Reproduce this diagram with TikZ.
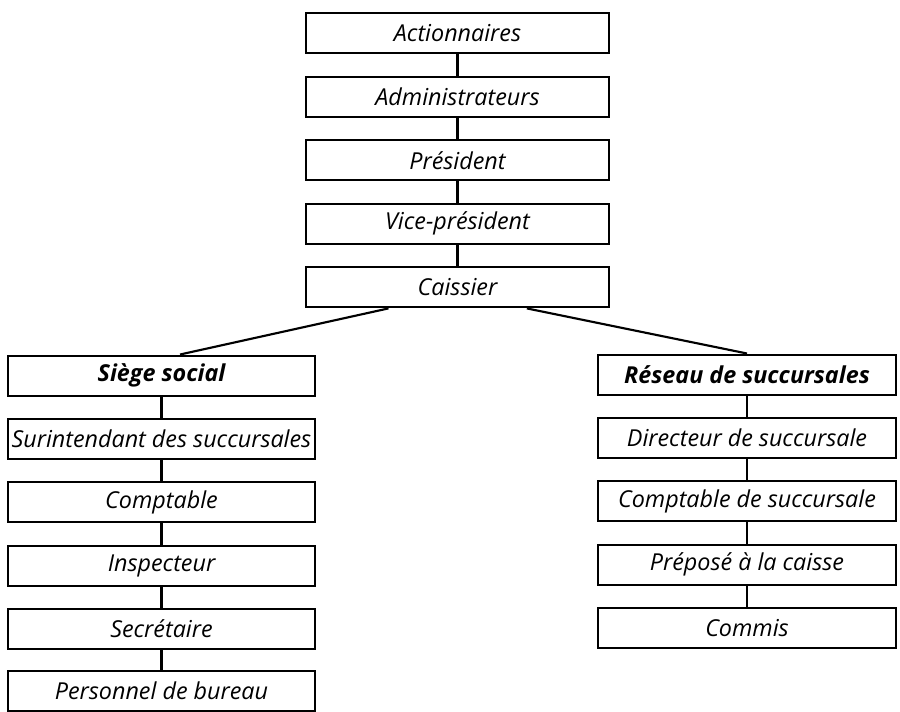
\documentclass[tikz,border=0pt]{standalone}
\usepackage{fontspec}
\setmainfont{Open Sans}
\begin{document}
\begin{tikzpicture}[x=0.75pt,y=0.75pt,yscale=-1,xscale=1]
        \tikzset{orgbox/.style={draw,line width=1.5pt,minimum height=30pt,inner sep=0pt,font=\itshape\fontsize{17.5}{19}\selectfont},
          topbox/.style={orgbox,minimum width=227pt},
          leftbox/.style={orgbox,minimum width=230pt},
          rightbox/.style={orgbox,minimum width=223pt},
          headbox/.style={font=\bfseries\itshape\fontsize{17.5}{19}\selectfont},
          link/.style={line width=1.6pt}}
        \useasboundingbox (0,0) rectangle (900,711);
        \node [topbox] (act) at (457.5,33) {Actionnaires};
        \node [topbox] (adm) at (457.5,96.6) {Administrateurs};
        \node [topbox] (pres) at (457.5,160.2) {Président};
        \node [topbox] (vice) at (457.5,223.8) {Vice-président};
        \node [topbox] (cai) at (457.5,287.4) {Caissier};
        \node [leftbox,headbox] (siege) at (161.5,375.5) {Siège social};
        \node [leftbox] (surint) at (161.5,438.9) {Surintendant des succursales};
        \node [leftbox] (compt) at (161.5,502.3) {Comptable};
        \node [leftbox] (insp) at (161.5,565.7) {Inspecteur};
        \node [leftbox] (secr) at (161.5,629.1) {Secrétaire};
        \node [leftbox] (pers) at (161.5,691) {Personnel de bureau};
        \node [rightbox,headbox] (reseau) at (747,374.5) {Réseau de succursales};
        \node [rightbox] (dir) at (747,437.9) {Directeur de succursale};
        \node [rightbox] (comptsucc) at (747,501.3) {Comptable de succursale};
        \node [rightbox] (prep) at (747,564.7) {Préposé à la caisse};
        \node [rightbox] (commis) at (747,628.1) {Commis};
        \draw [link] (act) -- (adm);
        \draw [link] (adm) -- (pres);
        \draw [link] (pres) -- (vice);
        \draw [link] (vice) -- (cai);
        \draw [link] ([xshift=-51.75pt]cai.south) -- ([xshift=13.9pt]siege.north);
        \draw [link] ([xshift=52pt]cai.south) -- (reseau.north);
        \draw [link] (siege) -- (surint);
        \draw [link] (surint) -- (compt);
        \draw [link] (compt) -- (insp);
        \draw [link] (insp) -- (secr);
        \draw [link] (secr) -- (pers);
        \draw [link] (reseau) -- (dir);
        \draw [link] (dir) -- (comptsucc);
        \draw [link] (comptsucc) -- (prep);
        \draw [link] (prep) -- (commis);
\end{tikzpicture}
\end{document}
